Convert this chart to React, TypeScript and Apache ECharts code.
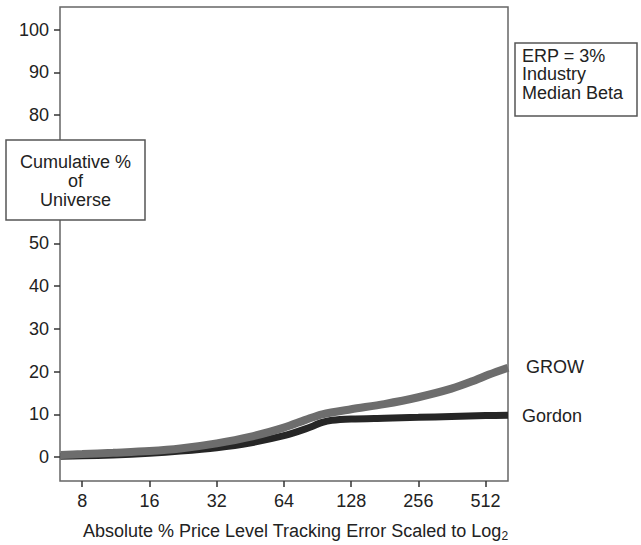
import React, { useEffect, useRef } from "react";
import * as echarts from "echarts";

const xTicks = [8, 16, 32, 64, 128, 256, 512];
const yTicks = [0, 10, 20, 30, 40, 50, 60, 70, 80, 90, 100];
// 60 and 70 labels are hidden behind the "Cumulative % of Universe" box in the reference
const yLabels = [0, 10, 20, 30, 40, 50, 80, 90, 100];

const growX = [6.4, 8, 11, 16, 22, 32, 45, 64, 80, 95, 128, 180, 256, 360, 450, 530, 645];
const growY = [0.5, 0.7, 1.0, 1.4, 2.0, 3.2, 4.7, 6.9, 8.7, 10.0, 11.2, 12.4, 14.0, 16.0, 17.8, 19.3, 20.9];

const gordonX = [6.4, 8, 11, 16, 22, 32, 45, 64, 80, 95, 105, 128, 180, 256, 360, 512, 645];
const gordonY = [0.2, 0.3, 0.5, 0.9, 1.4, 2.2, 3.3, 5.0, 6.6, 8.1, 8.6, 8.9, 9.1, 9.3, 9.5, 9.7, 9.8];

const FONT = "'Liberation Sans', Arial, Helvetica, sans-serif";
const FS = 18;

export default function App() {
  const ref = useRef<HTMLDivElement>(null);
  useEffect(() => {
    if (!ref.current) return;
    const chart = echarts.init(ref.current, null, { renderer: "svg" });
    chart.setOption({
      animation: false,
      backgroundColor: "#ffffff",
      textStyle: { fontFamily: FONT },
      grid: {
        left: 60,
        top: 7,
        width: 448,
        height: 474,
        show: true,
        borderColor: "#666",
        borderWidth: 1.5,
        backgroundColor: "transparent",
      },
      xAxis: {
        type: "log",
        logBase: 2,
        min: 6.36,
        max: 645,
        axisLine: { show: false, onZero: false },
        splitLine: { show: false },
        minorTick: { show: false },
        axisTick: {
          show: true,
          length: 6,
          inside: false,
          customValues: xTicks,
          lineStyle: { color: "#333", width: 1.5 },
        },
        axisLabel: {
          customValues: xTicks,
          color: "#222",
          fontSize: FS,
          fontFamily: FONT,
          margin: 11,
          formatter: (v: number) => String(Math.round(v)),
        },
      },
      yAxis: {
        type: "value",
        min: -5.6,
        max: 105.3,
        axisLine: { show: false, onZero: false },
        splitLine: { show: false },
        axisTick: {
          show: true,
          length: 6,
          inside: false,
          customValues: yTicks,
          lineStyle: { color: "#333", width: 1.5 },
        },
        axisLabel: {
          customValues: yLabels,
          color: "#222",
          fontSize: FS,
          fontFamily: FONT,
          margin: 11,
          formatter: (v: number) => String(Math.round(v)),
        },
      },
      series: [
        {
          name: "Gordon",
          type: "line",
          smooth: 0.3,
          showSymbol: false,
          data: gordonX.map((x, i) => [x, gordonY[i]]),
          lineStyle: { color: "#262626", width: 7 },
          z: 2,
        },
        {
          name: "GROW",
          type: "line",
          smooth: 0.3,
          showSymbol: false,
          data: growX.map((x, i) => [x, growY[i]]),
          lineStyle: { color: "#6d6d6d", width: 8 },
          z: 3,
        },
      ],
      graphic: [
        {
          type: "rect",
          shape: { x: 6, y: 140, width: 139, height: 80 },
          style: { fill: "#fff", stroke: "#555", lineWidth: 1.5 },
          z: 100,
        },
        {
          type: "text",
          x: 75.5,
          y: 181,
          style: {
            text: "Cumulative %\nof\nUniverse",
            font: `${FS}px ${FONT}`,
            fill: "#222",
            align: "center",
            verticalAlign: "middle",
            lineHeight: 19,
          },
          z: 101,
        },
        {
          type: "rect",
          shape: { x: 515, y: 43, width: 122, height: 73 },
          style: { fill: "#fff", stroke: "#555", lineWidth: 1.5 },
          z: 100,
        },
        {
          type: "text",
          x: 522,
          y: 74,
          style: {
            text: "ERP = 3%\nIndustry\nMedian Beta",
            font: `${FS}px ${FONT}`,
            fill: "#222",
            align: "left",
            verticalAlign: "middle",
            lineHeight: 18.5,
          },
          z: 101,
        },
        {
          type: "text",
          x: 526,
          y: 367,
          style: { text: "GROW", font: `${FS}px ${FONT}`, fill: "#222", verticalAlign: "middle" },
        },
        {
          type: "text",
          x: 522,
          y: 416,
          style: { text: "Gordon", font: `${FS}px ${FONT}`, fill: "#222", verticalAlign: "middle" },
        },
        {
          type: "text",
          x: 83,
          y: 531,
          style: {
            text: "{a|Absolute % Price Level Tracking Error Scaled to Log}{b|2}",
            rich: {
              a: { font: `${FS}px ${FONT}`, fill: "#222" },
              b: { font: `12px ${FONT}`, fill: "#222", padding: [9, 0, 0, 0] },
            },
            verticalAlign: "middle",
          },
        },
      ],
    });
    return () => chart.dispose();
  }, []);
  return (
    <div
      ref={ref}
      style={{ position: "fixed", left: 0, top: 0, width: 641, height: 545 }}
    />
  );
}
